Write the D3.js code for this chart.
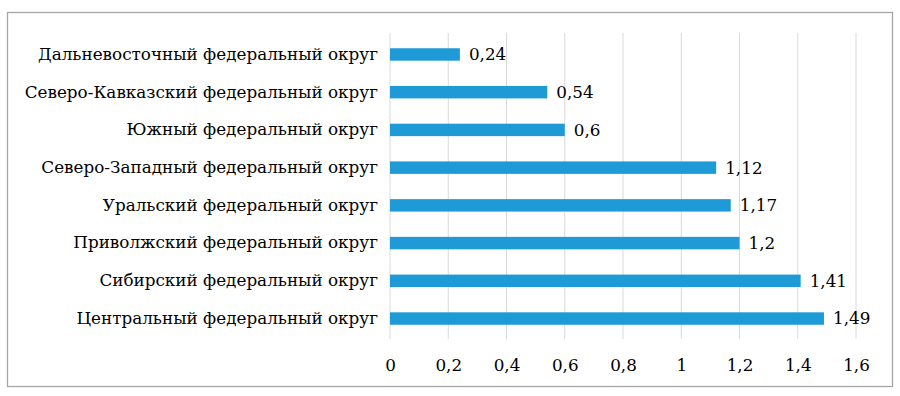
<!DOCTYPE html>
<html>
<head>
<meta charset="utf-8">
<script src="https://cdn.jsdelivr.net/npm/d3@7"></script>
<style>
  body { margin: 0; background: #fff; }
</style>
</head>
<body>
<div id="chart"></div>
<script>
// data, top to bottom
const districts = [
    'Дальневосточный федеральный округ',
    'Северо-Кавказский федеральный округ',
    'Южный федеральный округ',
    'Северо-Западный федеральный округ',
    'Уральский федеральный округ',
    'Приволжский федеральный округ',
    'Сибирский федеральный округ',
    'Центральный федеральный округ'
]
const values = [0.24, 0.54, 0.6, 1.12, 1.17, 1.2, 1.41, 1.49]
const xTicks = [0, 0.2, 0.4, 0.6, 0.8, 1, 1.2, 1.4, 1.6]

const width = 900, height = 396
const serif = '"DejaVu Serif", serif'
const fontSize = '16.8px'
const fmt = d => String(d).replace('.', ',')

const svg = d3.select('#chart').append('svg')
    .attr('width', width)
    .attr('height', height)
    .style('font-family', serif)

// outer frame
svg.append('rect')
    .attr('x', 7.5).attr('y', 12.5)
    .attr('width', 885).attr('height', 374)
    .attr('fill', 'none')
    .attr('stroke', '#a6a6a6')
    .attr('stroke-width', 1.3)

const x = d3.scaleLinear().domain([0, 1.6]).range([390, 856])
const y = d3.scaleBand().domain(districts).range([35.6, 337.4]).paddingInner(0.67).paddingOuter(0.335)

// gridlines
svg.append('g')
    .selectAll('line')
    .data(xTicks)
    .join('line')
    .attr('x1', d => x(d)).attr('x2', d => x(d))
    .attr('y1', 33).attr('y2', 339)
    .attr('stroke', '#d9d9d9')
    .attr('stroke-width', 1)

// bars
svg.append('g')
    .selectAll('rect')
    .data(values)
    .join('rect')
    .attr('x', x(0))
    .attr('y', (d, i) => y(districts[i]))
    .attr('width', d => x(d) - x(0))
    .attr('height', y.bandwidth())
    .attr('fill', '#1e9bd7')

// value labels
svg.append('g')
    .selectAll('text')
    .data(values)
    .join('text')
    .attr('x', d => x(d) + 9)
    .attr('y', (d, i) => y(districts[i]) + y.bandwidth() / 2)
    .attr('dy', '0.35em')
    .style('font-family', serif)
    .style('font-size', fontSize)
    .text(d => fmt(d))

// category axis
const yAxis = svg.append('g')
    .attr('transform', 'translate(' + x(0) + ',0)')
    .call(d3.axisLeft(y).tickSize(0).tickPadding(12))
yAxis.select('.domain').remove()
yAxis.selectAll('text')
    .style('font-family', serif)
    .style('font-size', fontSize)
    .attr('fill', '#000')

// value axis
const xAxis = svg.append('g')
    .attr('transform', 'translate(0,' + 353 + ')')
    .call(d3.axisBottom(x).tickValues(xTicks).tickSize(0).tickPadding(6).tickFormat(fmt))
xAxis.select('.domain').remove()
xAxis.selectAll('text')
    .style('font-family', serif)
    .style('font-size', fontSize)
    .attr('fill', '#000')
</script>
</body>
</html>
